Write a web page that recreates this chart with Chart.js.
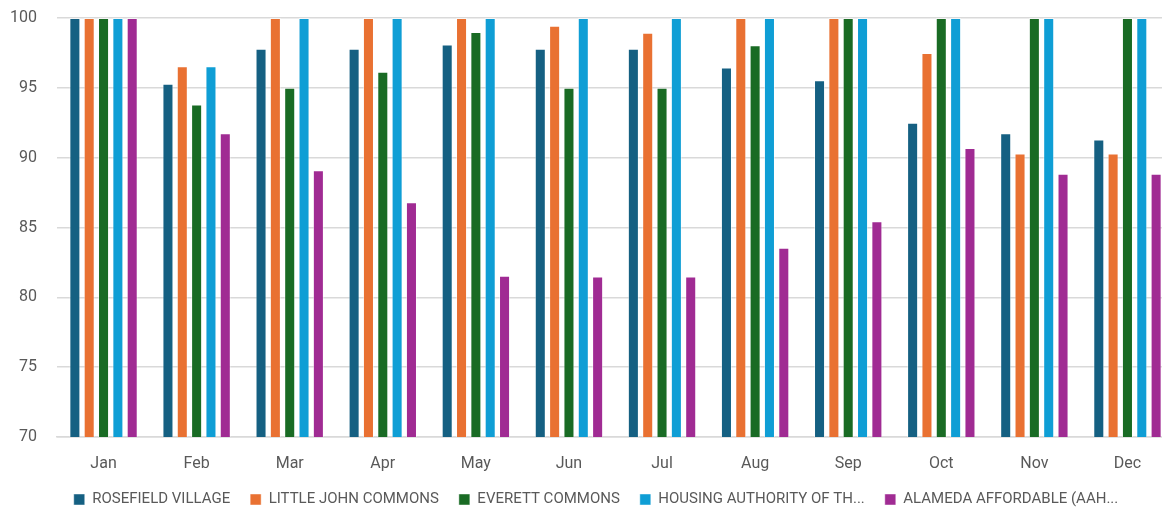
<!DOCTYPE html>
<html>
<head>
<meta charset="utf-8">
<script src="https://cdn.jsdelivr.net/npm/chart.js@4/dist/chart.umd.min.js"></script>
<style>
  html, body { margin: 0; padding: 0; background: #ffffff; overflow: hidden; }
  #wrap { position: relative; width: 1184px; height: 517px; }
</style>
</head>
<body>
<div id="wrap"><canvas id="occ" width="1184" height="517"></canvas></div>
<script>
// Monthly occupancy (%) per property
const months = ['Jan', 'Feb', 'Mar', 'Apr', 'May', 'Jun', 'Jul', 'Aug', 'Sep', 'Oct', 'Nov', 'Dec'];

const seriesNames = [
  'ROSEFIELD VILLAGE',
  'LITTLE JOHN COMMONS',
  'EVERETT COMMONS',
  'HOUSING AUTHORITY OF TH...',
  'ALAMEDA AFFORDABLE (AAH...'
];

const rosefield  = [100, 95.3, 97.8, 97.8, 98.1, 97.8, 97.8, 96.45, 95.55, 92.5, 91.75, 91.3];
const littleJohn = [100, 96.55, 100, 100, 100, 99.45, 98.95, 100, 100, 97.5, 90.3, 90.3];
const everett    = [100, 93.8, 95, 96.15, 99, 95, 95, 98.05, 100, 100, 100, 100];
const housingAuth = [100, 96.55, 100, 100, 100, 100, 100, 100, 100, 100, 100, 100];
const alameda    = [100, 91.75, 89.1, 86.8, 81.55, 81.5, 81.5, 83.55, 85.45, 90.7, 88.85, 88.85];

const yTicks = { min: 70, max: 100, step: 5 };

const colors = ['#156082', '#E97132', '#196B24', '#0F9ED5', '#A02B93'];
const values = [rosefield, littleJohn, everett, housingAuth, alameda];

Chart.defaults.font.family = 'Roboto, "Noto Sans", sans-serif';
Chart.defaults.color = '#595959';

new Chart(document.getElementById('occ'), {
  type: 'bar',
  data: {
    labels: months,
    datasets: seriesNames.map((name, i) => ({
      label: name,
      data: values[i],
      backgroundColor: colors[i],
      borderColor: 'rgba(255,255,255,0.45)',
      borderWidth: 1,
      borderSkipped: 'bottom',
      categoryPercentage: 0.77,
      barPercentage: 0.77,
      yAxisID: 'y'
    }))
  },
  options: {
    responsive: false,
    animation: false,
    layout: { padding: { left: 8, top: 18, right: 0, bottom: 0 } },
    plugins: {
      tooltip: { enabled: false },
      legend: {
        position: 'bottom',
        labels: {
          boxWidth: 11,
          boxHeight: 11,
          padding: 20,
          color: '#595959',
          font: { size: 15 }
        }
      }
    },
    scales: {
      x: {
        grid: { display: false, drawTicks: false },
        border: { color: '#d9d9d9', width: 1.5 },
        ticks: { padding: 19, font: { size: 16, lineHeight: 1 }, color: '#595959' },
        afterFit: s => { s.height = 35; }
      },
      y: {
        min: yTicks.min,
        max: yTicks.max,
        ticks: { stepSize: yTicks.step, padding: 20, font: { size: 16 }, color: '#595959' },
        grid: { color: '#d9d9d9', lineWidth: 1.5, drawTicks: false },
        border: { display: false },
        afterFit: s => {
          s.width = 49;
          s.paddingTop = 0;
          s.paddingBottom = 0;
        }
      },
      // empty spacer on the right so the legend sits left of the plot centre
      yR: {
        position: 'right',
        display: true,
        grid: { display: false, drawTicks: false },
        border: { display: false },
        ticks: { display: false },
        afterFit: s => {
          s.width = 10;
          s.paddingTop = 0;
          s.paddingBottom = 0;
        }
      }
    }
  }
});
</script>
</body>
</html>
